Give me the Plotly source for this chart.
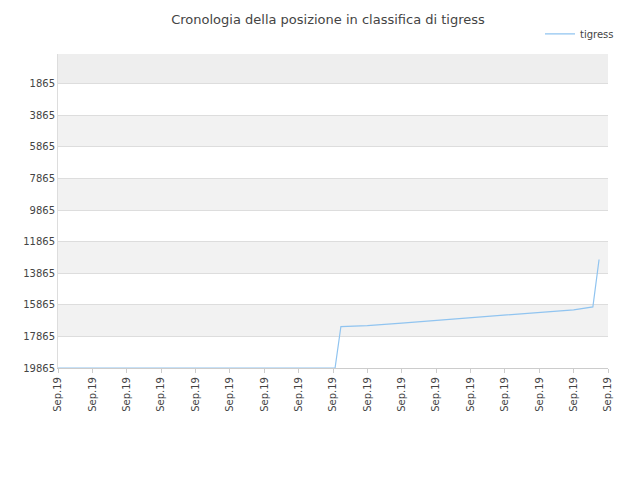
import plotly.graph_objects as go

# positions along the time axis (tick units) and ranking values
x_pos = [0, 8.06, 8.23, 9, 10, 11, 12, 13, 14, 15, 15.56, 15.74]
rank = [19865, 19865, 17240, 17180, 17020, 16860, 16700, 16540, 16380, 16180, 16000, 13000]
tick_labels = ["Sep.19"] * 17
y_ticks = list(range(1865, 19866, 2000))

fig = go.Figure()
fig.add_trace(go.Scatter(x=x_pos, y=rank, mode="lines", name="tigress",
                         line=dict(color="#90c4f0", width=1.2)))

# alternating background bands
for lo, hi in [(-10, 1865), (3865, 5865), (7865, 9865), (11865, 13865), (15865, 17865)]:
    fig.add_hrect(y0=lo, y1=hi, fillcolor="#eeeeee" if lo < 0 else "#f2f2f2",
                  line_width=0, layer="below")

fig.update_layout(
    width=640, height=480,
    title=dict(text="Cronologia della posizione in classifica di tigress",
               x=0.5, y=0.985, yanchor="top", font=dict(size=13, color="#444")),
    font=dict(family="DejaVu Sans", size=11, color="#444"),
    paper_bgcolor="white", plot_bgcolor="white",
    margin=dict(l=50, r=40, t=40, b=120),
    showlegend=True,
    legend=dict(x=1.02, y=1.11, xanchor="right", yanchor="top",
                font=dict(size=10), bgcolor="rgba(0,0,0,0)"),
    xaxis=dict(range=[0, 16], tickvals=list(range(17)), ticktext=tick_labels,
               tickangle=-90, showgrid=False, zeroline=False, automargin=False,
               ticks="outside", ticklen=4, tickcolor="#ccc",
               showline=True, linecolor="#ccc", tickfont=dict(size=10)),
    yaxis=dict(range=[19865, -10], tickvals=y_ticks, ticktext=[str(v) for v in y_ticks],
               showgrid=True, gridcolor="#dddddd", zeroline=False, automargin=False,
               showline=True, linecolor="#ddd", tickfont=dict(size=10)),
)

fig.write_html("out.html")
